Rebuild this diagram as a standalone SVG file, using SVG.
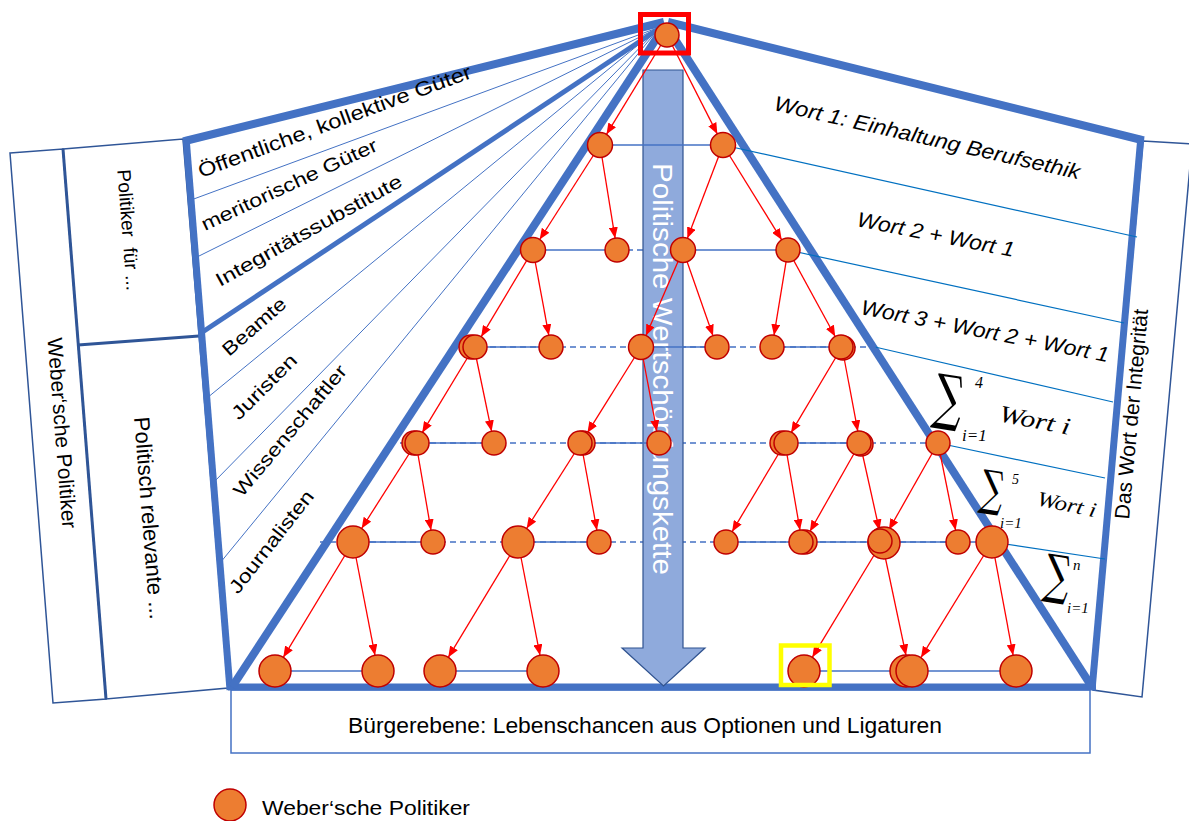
<svg xmlns="http://www.w3.org/2000/svg" width="1189" height="821" viewBox="0 0 1189 821">
<defs>
<marker id="ah" markerUnits="userSpaceOnUse" markerWidth="11" markerHeight="9" viewBox="0 0 11 9" refX="11" refY="4.5" orient="auto"><path d="M0,0 L11,4.5 L0,9 z" fill="#FF0000"/></marker>
<style>
.panel{fill:#fff;stroke:#2F5597;stroke-width:1.5}
.thick{stroke:#4472C4;fill:none}
.fan{stroke:#4472C4;stroke-width:1}
.rl{stroke:#0070C0;stroke-width:1.2}
.hs{stroke:#4472C4;stroke-width:1.4}
.hd{stroke:#4472C4;stroke-width:1.4;stroke-dasharray:6 4}
.edge{stroke:#FF0000;stroke-width:1.3;fill:none;marker-end:url(#ah)}
.node circle{fill:#ED7D31;stroke:#C00000;stroke-width:1.5}
.sans{font-family:"Liberation Sans",Arial,sans-serif;fill:#000}
.it{font-family:"Liberation Sans",Arial,sans-serif;font-style:italic;fill:#000}
.math{font-family:"Liberation Serif","DejaVu Serif",serif;font-style:italic;fill:#000}
.sig{font-family:"DejaVu Serif",serif;fill:#000}
</style>
</defs>
<rect width="1189" height="821" fill="#fff"/>

<g id="left-panels">
<polygon class="panel" points="10,153 63,149 106,699 53,703"/>
<polygon class="panel" points="63,149 183,139 228,688 106,699"/>
<line x1="63" y1="149" x2="106" y2="699" stroke="#2F5597" stroke-width="3"/>
<line x1="78" y1="345" x2="199" y2="336" stroke="#2F5597" stroke-width="3"/>
<text class="sans" font-size="21" text-anchor="middle" transform="translate(62,433) rotate(85.5)" y="7">Weber‘sche Politiker</text>
<text class="sans" font-size="19" text-anchor="middle" transform="translate(129,230) rotate(85.5)" y="7" xml:space="preserve">Politiker  für ...</text>
<text class="sans" font-size="22" text-anchor="middle" transform="translate(150,518) rotate(85.5)" y="8">Politisch relevante ...</text>
</g>

<g id="right-panel">
<polygon class="panel" points="1143,141 1192,144 1142,697 1093,690"/>
<text class="sans" font-size="21" text-anchor="middle" transform="translate(1131,414) rotate(-84.8)" y="7.5">Das Wort der Integrität</text>
</g>

<g id="bottom-box">
<rect x="231" y="690" width="859" height="63" fill="#fff" stroke="#4472C4" stroke-width="1.5"/>
<text class="sans" font-size="22" x="348" y="733" textLength="594" lengthAdjust="spacingAndGlyphs">Bürgerebene: Lebenschancen aus Optionen und Ligaturen</text>
</g>

<g id="frame">
<line class="fan" x1="660" y1="27" x2="191" y2="200"/>
<line class="fan" x1="660" y1="27" x2="195" y2="258"/>
<line class="fan" x1="660" y1="27" x2="207" y2="398"/>
<line class="fan" x1="660" y1="27" x2="213" y2="483"/>
<line class="fan" x1="660" y1="27" x2="220" y2="563"/>
<line class="thick" stroke-width="5" x1="660" y1="28" x2="201" y2="333"/>
<line class="thick" stroke-width="8" x1="185" y1="141" x2="664" y2="22"/>
<line class="thick" stroke-width="8" x1="668" y1="22" x2="1142" y2="140"/>
<line class="thick" stroke-width="7" x1="186" y1="137" x2="230" y2="690"/>
<line class="thick" stroke-width="7" x1="1141" y1="136" x2="1092" y2="690"/>
<line class="thick" stroke-width="7" x1="228" y1="687" x2="1096" y2="687"/>
<line class="thick" stroke-width="8" x1="664" y1="27" x2="232" y2="687"/>
<line class="thick" stroke-width="8" x1="667" y1="27" x2="1092" y2="687"/>
</g>

<g id="connectors">
<line class="rl" x1="723" y1="145" x2="1137" y2="237"/>
<line class="rl" x1="788" y1="250" x2="1124" y2="323"/>
<line class="rl" x1="875" y1="347" x2="1113" y2="402"/>
<line class="rl" x1="938" y1="443" x2="1105" y2="478"/>
<line class="rl" x1="992" y1="542" x2="1105" y2="559"/>
<line class="hd" x1="617" y1="250" x2="683" y2="250"/>
<line class="hd" x1="460" y1="347" x2="878" y2="347"/>
<line class="hd" x1="400" y1="443" x2="938" y2="443"/>
<line class="hd" x1="320" y1="542" x2="992" y2="542"/>
</g>

<g id="value-chain-arrow">
<polygon points="643,70 683,70 683,648 705,648 663.5,686 622,648 643,648" fill="#8FAADC" stroke="#2F528F" stroke-width="1.2"/>
<text class="sans" font-size="27" style="fill:#fff" text-anchor="middle" transform="translate(663,369) rotate(90)" y="10" textLength="412" lengthAdjust="spacingAndGlyphs">Politische Wertschöpfungskette</text>
</g>

<g id="sibling-lines">
<line class="hs" x1="600" y1="145" x2="723" y2="145"/>
<line class="hs" x1="533" y1="250" x2="617" y2="250"/>
<line class="hs" x1="683" y1="250" x2="788" y2="250"/>
<line class="hs" x1="474" y1="347" x2="551" y2="347"/>
<line class="hs" x1="641" y1="347" x2="717" y2="347"/>
<line class="hs" x1="772" y1="347" x2="842" y2="347"/>
<line class="hs" x1="416" y1="443" x2="494" y2="443"/>
<line class="hs" x1="581" y1="443" x2="659" y2="443"/>
<line class="hs" x1="785" y1="443" x2="860" y2="443"/>
<line class="hs" x1="353" y1="542" x2="433" y2="542"/>
<line class="hs" x1="518" y1="542" x2="599" y2="542"/>
<line class="hs" x1="726" y1="542" x2="958" y2="542"/>
<line class="hs" x1="275" y1="671" x2="378" y2="671"/>
<line class="hs" x1="440" y1="671" x2="543" y2="671"/>
<line class="hs" x1="804" y1="671" x2="1016" y2="671"/>
</g>

<g id="edges">
<line class="edge" x1="667" y1="35" x2="606.5" y2="134.3"/>
<line class="edge" x1="667" y1="35" x2="717.3" y2="133.9"/>
<line class="edge" x1="600" y1="145" x2="539.7" y2="239.5"/>
<line class="edge" x1="600" y1="145" x2="615.1" y2="238.2"/>
<line class="edge" x1="723" y1="145" x2="687.4" y2="238.3"/>
<line class="edge" x1="723" y1="145" x2="781.7" y2="239.8"/>
<line class="edge" x1="533" y1="250" x2="481.2" y2="336.7"/>
<line class="edge" x1="533" y1="250" x2="548.8" y2="335.2"/>
<line class="edge" x1="683" y1="250" x2="646" y2="335.5"/>
<line class="edge" x1="683" y1="250" x2="713" y2="335.7"/>
<line class="edge" x1="788" y1="250" x2="774" y2="335.2"/>
<line class="edge" x1="788" y1="250" x2="835.2" y2="336.5"/>
<line class="edge" x1="474" y1="347" x2="422.2" y2="432.7"/>
<line class="edge" x1="474" y1="347" x2="491.6" y2="431.3"/>
<line class="edge" x1="641" y1="347" x2="587.4" y2="432.8"/>
<line class="edge" x1="641" y1="347" x2="656.8" y2="431.2"/>
<line class="edge" x1="842" y1="347" x2="791.1" y2="432.7"/>
<line class="edge" x1="842" y1="347" x2="857.8" y2="431.2"/>
<line class="edge" x1="785" y1="443" x2="732.1" y2="531.7"/>
<line class="edge" x1="785" y1="443" x2="800" y2="530.2"/>
<line class="edge" x1="860" y1="443" x2="809.9" y2="531.5"/>
<line class="edge" x1="860" y1="443" x2="879.4" y2="530.3"/>
<line class="edge" x1="938" y1="443" x2="888.9" y2="529.8"/>
<line class="edge" x1="938" y1="443" x2="955.6" y2="530.2"/>
<line class="edge" x1="416" y1="443" x2="361.6" y2="528.5"/>
<line class="edge" x1="416" y1="443" x2="431" y2="530.2"/>
<line class="edge" x1="581" y1="443" x2="526.6" y2="528.5"/>
<line class="edge" x1="581" y1="443" x2="596.9" y2="530.2"/>
<line class="edge" x1="353" y1="542" x2="283.3" y2="657.3"/>
<line class="edge" x1="353" y1="542" x2="375" y2="655.3"/>
<line class="edge" x1="518" y1="542" x2="448.3" y2="657.3"/>
<line class="edge" x1="518" y1="542" x2="540" y2="655.3"/>
<line class="edge" x1="882" y1="542" x2="812.3" y2="657.3"/>
<line class="edge" x1="882" y1="542" x2="906" y2="655.3"/>
<line class="edge" x1="992" y1="542" x2="921" y2="657.4"/>
<line class="edge" x1="992" y1="542" x2="1013.1" y2="655.3"/>
</g>

<g id="nodes">
<g id="n0" class="node"><circle cx="667" cy="35" r="12"/></g>
<g id="n1a" class="node"><circle cx="600" cy="145" r="12.5"/></g>
<g id="n1b" class="node"><circle cx="723" cy="145" r="12.5"/></g>
<g id="n2a" class="node"><circle cx="533" cy="250" r="12.5"/></g>
<g id="n2b" class="node"><circle cx="617" cy="250" r="12"/></g>
<g id="n2c" class="node"><circle cx="683" cy="250" r="12.5"/></g>
<g id="n2d" class="node"><circle cx="788" cy="250" r="12"/></g>
<g id="n3a" class="node"><circle cx="471" cy="347" r="12"/><circle cx="475" cy="347" r="12"/></g>
<g id="n3b" class="node"><circle cx="551" cy="347" r="12"/></g>
<g id="n3c" class="node"><circle cx="641" cy="347" r="12.5"/></g>
<g id="n3d" class="node"><circle cx="717" cy="347" r="12"/></g>
<g id="n3e" class="node"><circle cx="772" cy="347" r="12"/></g>
<g id="n3f" class="node"><circle cx="843" cy="348" r="12"/><circle cx="841" cy="347" r="12"/></g>
<g id="n4a" class="node"><circle cx="414" cy="443" r="12"/><circle cx="417" cy="443" r="12"/></g>
<g id="n4b" class="node"><circle cx="494" cy="443" r="12"/></g>
<g id="n4c" class="node"><circle cx="583" cy="443" r="12"/><circle cx="580" cy="443" r="12"/></g>
<g id="n4d" class="node"><circle cx="659" cy="443" r="12"/></g>
<g id="n4e" class="node"><circle cx="782" cy="443" r="12"/><circle cx="786" cy="443" r="12"/></g>
<g id="n4f" class="node"><circle cx="861" cy="444" r="12"/><circle cx="859" cy="443" r="12"/></g>
<g id="n4g" class="node"><circle cx="938" cy="443" r="12"/></g>
<g id="n5a" class="node"><circle cx="353" cy="542" r="16"/></g>
<g id="n5b" class="node"><circle cx="433" cy="542" r="12"/></g>
<g id="n5c" class="node"><circle cx="518" cy="542" r="16"/></g>
<g id="n5d" class="node"><circle cx="599" cy="542" r="12"/></g>
<g id="n5e" class="node"><circle cx="726" cy="542" r="12"/></g>
<g id="n5f" class="node"><circle cx="805" cy="542" r="12"/><circle cx="801" cy="542" r="12"/></g>
<g id="n5g" class="node"><circle cx="884" cy="543" r="16"/><circle cx="880" cy="541" r="12"/></g>
<g id="n5h" class="node"><circle cx="958" cy="542" r="12"/></g>
<g id="n5i" class="node"><circle cx="992" cy="542" r="16"/></g>
<g id="n6a" class="node"><circle cx="275" cy="671" r="16"/></g>
<g id="n6b" class="node"><circle cx="378" cy="671" r="16"/></g>
<g id="n6c" class="node"><circle cx="440" cy="671" r="16"/></g>
<g id="n6d" class="node"><circle cx="543" cy="671" r="16"/></g>
<g id="n6e" class="node"><circle cx="804" cy="671" r="16"/></g>
<g id="n6f" class="node"><circle cx="906" cy="671" r="16"/><circle cx="912" cy="671" r="16"/></g>
<g id="n6g" class="node"><circle cx="1016" cy="671" r="16"/></g>
</g>

<g id="highlights">
<rect x="640.5" y="14.5" width="48" height="38.5" fill="none" stroke="#FF0000" stroke-width="5"/>
<rect x="781" y="645.5" width="48.5" height="39.5" fill="none" stroke="#FFFF00" stroke-width="4.5"/>
</g>

<g id="left-labels">
<text class="sans" font-size="20" transform="translate(201,178) rotate(-20.3)" textLength="290" lengthAdjust="spacingAndGlyphs">Öffentliche, kollektive Güter</text>
<text class="sans" font-size="19" transform="translate(205,231) rotate(-25)" textLength="192" lengthAdjust="spacingAndGlyphs">meritorische Güter</text>
<text class="sans" font-size="19" transform="translate(220,287) rotate(-29)" textLength="210" lengthAdjust="spacingAndGlyphs">Integritätssubstitute</text>
<text class="sans" font-size="19" transform="translate(229,357) rotate(-41)" textLength="78" lengthAdjust="spacingAndGlyphs">Beamte</text>
<text class="sans" font-size="19" transform="translate(239,421) rotate(-45)" textLength="84" lengthAdjust="spacingAndGlyphs">Juristen</text>
<text class="sans" font-size="19" transform="translate(242,498) rotate(-50)" textLength="165" lengthAdjust="spacingAndGlyphs">Wissenschaftler</text>
<text class="sans" font-size="19" transform="translate(238,595) rotate(-52)" textLength="125" lengthAdjust="spacingAndGlyphs">Journalisten</text>
</g>

<g id="right-labels">
<text class="it" font-size="21" transform="translate(773,110) rotate(12.8)" textLength="313" lengthAdjust="spacingAndGlyphs">Wort 1: Einhaltung Berufsethik</text>
<text class="it" font-size="21" transform="translate(856,226) rotate(11.2)" textLength="160" lengthAdjust="spacingAndGlyphs">Wort 2 + Wort 1</text>
<text class="it" font-size="21" transform="translate(860,314) rotate(11)" textLength="252" lengthAdjust="spacingAndGlyphs">Wort 3 + Wort 2 + Wort 1</text>
<text class="sig" font-size="60" text-anchor="middle" transform="translate(946,418) rotate(9) scale(0.68,1)">∑</text>
<text class="math" font-size="16" x="975" y="388">4</text>
<text class="math" font-size="17" x="962" y="441">i=1</text>
<text class="math" font-size="24" transform="translate(998,421) rotate(11)" textLength="72" lengthAdjust="spacingAndGlyphs">Wort i</text>
<text class="sig" font-size="48" text-anchor="middle" transform="translate(990,505) rotate(9) scale(0.68,1)">∑</text>
<text class="math" font-size="14" x="1012" y="484">5</text>
<text class="math" font-size="15" x="1000" y="528">i=1</text>
<text class="math" font-size="21" transform="translate(1036,505) rotate(12)" textLength="60" lengthAdjust="spacingAndGlyphs">Wort i</text>
<text class="sig" font-size="53" text-anchor="middle" transform="translate(1055,593) rotate(9) scale(0.68,1)">∑</text>
<text class="math" font-size="15" x="1073" y="570">n</text>
<text class="math" font-size="15" x="1067" y="613">i=1</text>
</g>

<g id="legend">
<g class="node"><circle cx="230" cy="805" r="16"/></g>
<text class="sans" font-size="21" x="262" y="815" textLength="208" lengthAdjust="spacingAndGlyphs">Weber‘sche Politiker</text>
</g>
</svg>
